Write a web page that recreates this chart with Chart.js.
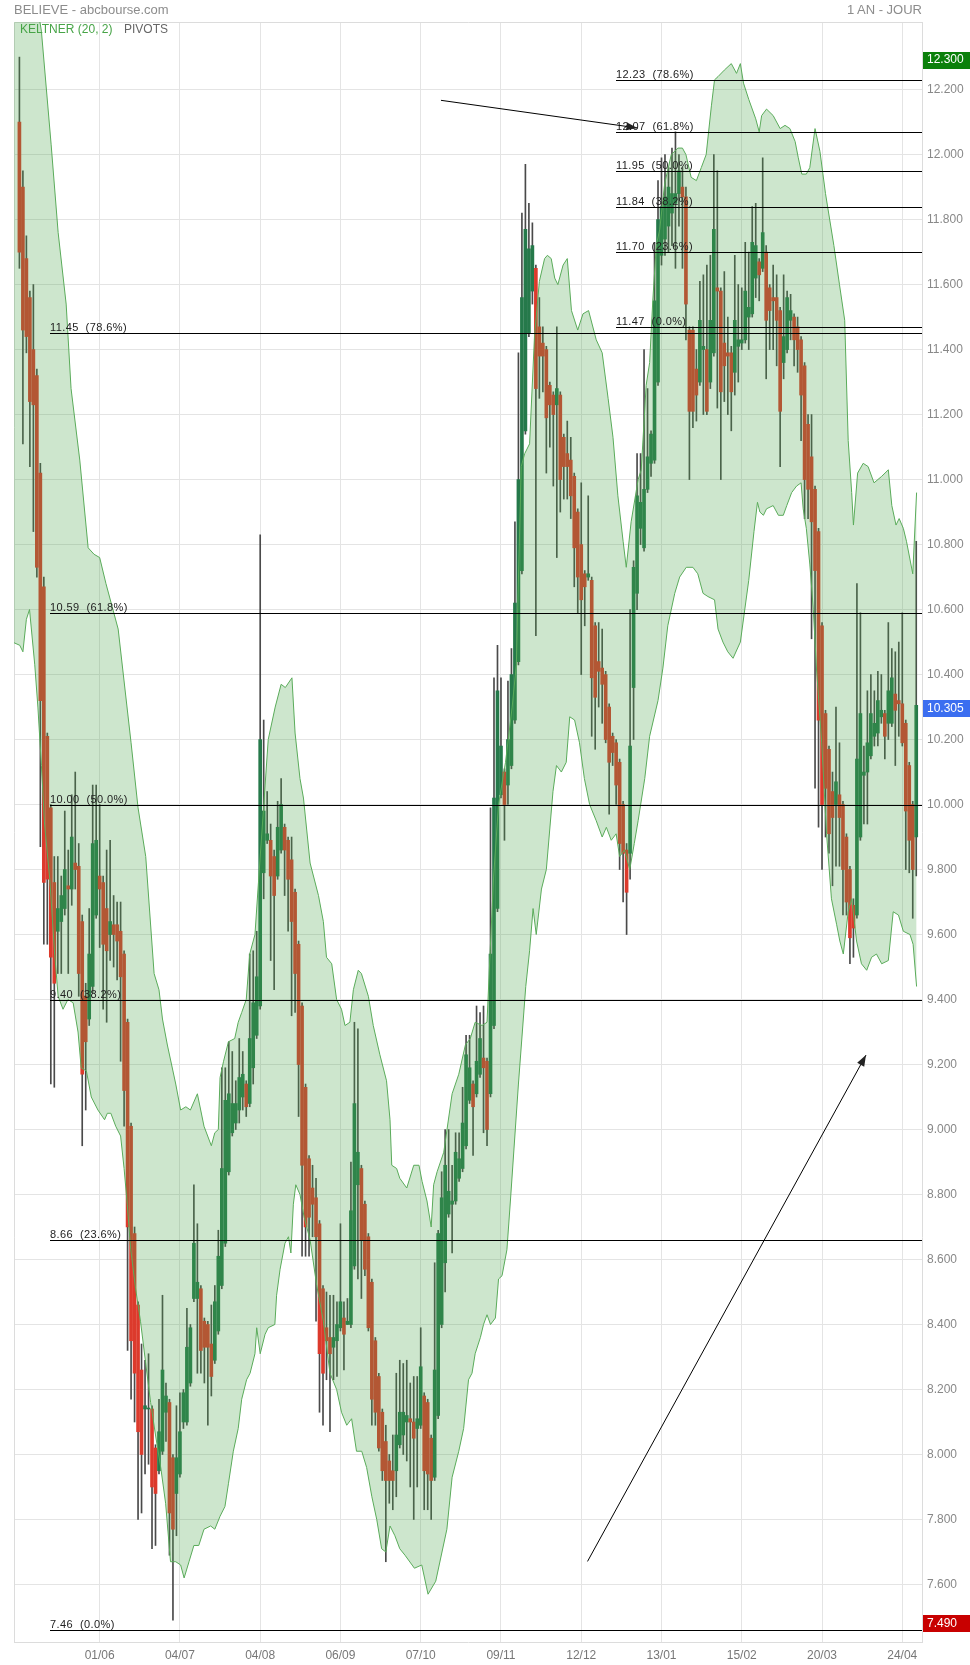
<!DOCTYPE html>
<html>
<head>
<meta charset="utf-8">
<title>BELIEVE - abcbourse.com</title>
<script src="https://cdn.jsdelivr.net/npm/chart.js"></script>
<style>
body{margin:0;background:#fff;font-family:"Liberation Sans",Arial,sans-serif}
#wrap{position:relative;width:970px;height:1665px}
.t{position:absolute;white-space:nowrap;line-height:1}
</style>
</head>
<body>
<div id="wrap">
<canvas id="chart" width="970" height="1665"></canvas>
<div class="t" style="left:14px;top:3px;font-size:13px;color:#8c8c8c">BELIEVE - abcbourse.com</div>
<div class="t" style="right:48px;top:3px;font-size:13px;color:#8c8c8c">1 AN - JOUR</div>
<div class="t" style="left:20px;top:23px;font-size:12px;color:#47a447">KELTNER (20, 2)</div>
<div class="t" style="left:124px;top:23px;font-size:12px;color:#666">PIVOTS</div>
</div>
<script>
// x = trading day index, one label every 23 sessions
const tickIdx = [23, 46, 69, 92, 115, 138, 161, 184, 207, 230, 253];
const tickLbl = ['01/06','04/07','04/08','06/09','07/10','09/11','12/12','13/01','15/02','20/03','24/04'];
const priceTicks = [7.6,7.8,8.0,8.2,8.4,8.6,8.8,9.0,9.2,9.4,9.6,9.8,10.0,10.2,10.4,10.6,10.8,11.0,11.2,11.4,11.6,11.8,12.0,12.2];

const opens = [
12.10,11.90,11.68,11.56,11.40,11.32,11.02,10.67,10.21,9.99,
9.76,9.61,9.64,9.68,9.75,9.74,9.82,9.81,9.64,9.41,
9.34,9.44,9.66,9.78,9.76,9.68,9.60,9.63,9.63,9.61,
9.54,9.33,9.01,8.68,8.46,8.26,8.14,8.14,8.14,8.02,
7.95,8.01,8.13,8.16,7.99,7.88,7.94,8.10,8.10,8.22,
8.48,8.48,8.51,8.41,8.40,8.34,8.29,8.38,8.52,8.65,
8.87,8.99,9.02,9.06,9.10,9.14,9.08,9.19,9.29,9.38,
9.79,9.89,9.89,9.84,9.78,9.86,9.93,9.89,9.83,9.73,
9.57,9.38,9.13,8.91,8.82,8.79,8.71,8.51,8.39,8.36,
8.33,8.35,8.39,8.42,8.40,8.40,8.58,8.83,8.88,8.77,
8.67,8.53,8.35,8.24,8.13,8.04,7.98,7.95,7.95,8.03,
8.06,8.10,8.11,8.10,8.08,8.09,8.18,8.16,8.05,7.93,
8.12,8.40,8.59,8.74,8.77,8.78,8.85,8.88,8.95,9.09,
9.14,9.11,9.17,9.22,9.21,9.11,9.32,9.68,10.03,10.10,
10.06,10.12,10.26,10.44,10.72,11.15,11.45,11.58,11.65,11.47,
11.42,11.40,11.29,11.26,11.23,11.26,11.13,11.08,11.06,11.01,
10.90,10.80,10.71,10.70,10.69,10.55,10.44,10.42,10.40,10.30,
10.21,10.19,10.13,10.00,9.86,9.85,10.36,10.65,10.85,10.79,
10.97,11.05,11.06,11.30,11.69,11.74,11.78,11.82,11.85,11.88,
11.90,11.87,11.46,11.46,11.34,11.30,11.40,11.40,11.30,11.39,
11.59,11.58,11.42,11.39,11.39,11.33,11.41,11.42,11.43,11.50,
11.51,11.62,11.67,11.65,11.70,11.59,11.56,11.56,11.52,11.36,
11.40,11.49,11.50,11.47,11.43,11.35,11.17,11.07,10.97,10.84,
10.55,10.28,10.17,10.04,10.00,10.03,10.00,9.90,9.80,9.69,
9.66,9.90,10.09,10.10,10.15,10.21,10.22,10.27,10.28,10.25,
10.25,10.34,10.32,10.31,10.25,10.12,10.00,9.90];

const highs = [
12.30,11.95,11.75,11.58,11.60,11.34,11.05,10.70,10.22,10.00,
9.84,9.84,9.78,9.98,9.86,10.03,10.10,9.88,9.66,9.45,
9.68,10.06,10.06,10.00,9.78,9.86,9.89,9.72,9.70,9.70,
9.55,9.34,9.02,8.70,8.47,8.34,8.29,8.31,8.15,8.03,
8.17,8.49,8.22,8.17,8.00,8.15,8.19,8.20,8.45,8.40,
8.83,8.71,8.52,8.42,8.41,8.46,8.52,8.69,9.19,9.19,
9.27,9.24,9.15,9.28,9.24,9.15,9.54,9.55,9.61,10.83,
10.26,10.04,9.94,9.86,10.01,10.08,9.94,9.90,9.90,9.74,
9.58,9.39,9.14,8.92,8.89,8.85,8.72,8.52,8.50,8.49,
8.49,8.47,8.71,8.47,8.48,8.90,9.33,9.31,8.89,8.78,
8.68,8.54,8.36,8.25,8.14,8.09,8.00,8.06,8.25,8.29,
8.28,8.29,8.22,8.24,8.24,8.39,8.19,8.17,8.06,8.59,
8.69,8.87,9.00,9.00,8.89,8.99,8.99,9.13,9.29,9.29,
9.15,9.38,9.36,9.38,9.22,9.99,10.39,10.49,10.39,10.11,
10.38,10.48,10.87,11.39,11.82,11.97,11.85,11.79,11.66,11.56,
11.47,11.41,11.30,11.27,11.47,11.27,11.14,11.18,11.13,11.02,
10.91,10.99,10.72,10.95,10.70,10.56,10.56,10.54,10.41,10.31,
10.22,10.20,10.14,10.01,9.88,10.60,10.75,11.08,11.08,11.40,
11.28,11.15,11.73,11.92,11.99,12.00,11.96,12.02,12.07,12.00,
11.96,11.90,11.47,11.47,11.40,11.61,11.63,11.66,11.69,12.00,
11.95,11.59,11.64,11.50,11.41,11.69,11.60,11.59,11.73,11.70,
11.84,11.85,11.68,11.99,11.72,11.60,11.66,11.63,11.53,11.63,
11.58,11.57,11.51,11.50,11.44,11.36,11.20,11.20,10.98,10.85,
10.56,10.29,10.18,10.10,10.30,10.19,10.01,9.91,9.81,9.71,
10.68,10.59,10.18,10.35,10.40,10.35,10.41,10.40,10.29,10.56,
10.48,10.47,10.50,10.59,10.26,10.13,10.01,10.81];

const lows = [
11.65,11.11,11.39,11.04,10.84,10.70,9.87,9.57,9.57,9.14,
9.13,9.48,9.48,9.66,9.48,9.69,9.74,9.41,8.95,9.06,
9.32,9.42,9.65,9.56,9.37,9.33,9.52,9.50,9.46,9.21,
9.01,8.32,8.17,8.10,7.80,7.82,7.94,7.97,7.71,7.72,
7.94,8.00,8.04,7.69,7.49,7.75,7.93,8.08,8.09,8.21,
8.47,8.25,8.25,8.22,8.09,8.18,8.28,8.37,8.51,8.64,
8.86,8.98,9.00,9.02,9.06,9.04,9.07,9.14,9.28,9.37,
9.71,9.88,9.52,9.43,9.77,9.85,9.72,9.61,9.35,9.36,
9.04,8.61,8.61,8.61,8.67,8.41,8.13,8.09,8.23,8.07,
8.23,8.24,8.38,8.26,8.40,8.39,8.57,8.54,8.48,8.55,
8.38,8.09,8.09,8.01,7.92,7.67,7.85,7.83,7.87,8.02,
8.00,7.98,7.90,7.80,7.90,8.08,7.83,7.83,7.80,7.92,
8.11,8.39,8.50,8.73,8.62,8.77,8.84,8.87,8.94,9.08,
8.92,9.10,9.16,8.99,8.95,9.10,9.31,9.67,10.02,9.89,
10.00,10.11,10.25,10.43,10.71,11.14,11.44,11.54,10.52,11.25,
11.27,11.02,11.10,10.98,10.76,10.90,10.94,10.94,10.88,10.67,
10.59,10.40,10.55,10.69,10.21,10.17,10.30,10.25,10.19,9.97,
10.12,10.00,9.80,9.70,9.60,9.77,10.20,10.60,10.80,10.78,
10.96,11.01,11.05,11.29,11.66,11.69,11.70,11.72,11.65,11.78,
11.65,11.43,11.00,11.16,11.18,11.29,11.20,11.20,11.28,11.38,
11.22,11.00,11.24,11.20,11.15,11.26,11.30,11.40,11.42,11.40,
11.50,11.56,11.55,11.64,11.31,11.40,11.40,11.35,11.04,11.31,
11.39,11.43,11.35,11.33,11.12,10.88,10.88,10.51,10.05,9.93,
9.80,9.90,9.85,9.75,9.81,9.81,9.66,9.66,9.51,9.53,
9.65,9.89,9.94,9.94,10.14,10.18,10.18,10.25,10.14,10.20,
10.24,10.12,10.21,10.18,9.80,9.79,9.65,9.78];

const closes = [
11.70,11.46,11.44,11.24,11.23,10.73,10.32,9.76,9.77,9.53,
9.45,9.68,9.72,9.80,9.74,9.90,9.80,9.48,9.17,9.27,
9.54,9.88,9.89,9.74,9.57,9.55,9.64,9.60,9.58,9.47,
9.12,8.70,8.35,8.25,8.07,8.00,8.15,8.14,7.90,7.88,
8.07,8.26,8.18,7.82,7.77,7.99,8.07,8.19,8.33,8.39,
8.65,8.53,8.32,8.33,8.33,8.24,8.47,8.61,8.88,9.09,
9.11,9.08,9.08,9.16,9.17,9.07,9.28,9.39,9.47,10.20,
9.98,9.91,9.78,9.72,9.93,10.00,9.86,9.77,9.64,9.48,
9.20,8.89,8.70,8.73,8.77,8.67,8.31,8.25,8.35,8.31,
8.36,8.40,8.47,8.37,8.41,8.75,9.08,8.93,8.66,8.57,
8.39,8.17,8.13,8.02,7.95,7.92,7.92,7.92,8.06,8.13,
8.13,8.12,8.10,8.05,8.11,8.27,7.95,7.94,7.92,8.26,
8.68,8.79,8.89,8.81,8.78,8.93,8.91,9.02,9.23,9.19,
9.07,9.21,9.28,9.19,9.00,9.54,10.02,10.35,10.18,10.00,
10.20,10.40,10.62,11.00,11.56,11.77,11.71,11.72,11.28,11.38,
11.38,11.19,11.23,11.20,11.28,11.00,11.04,11.04,10.95,10.79,
10.70,10.63,10.67,10.71,10.39,10.33,10.41,10.37,10.20,10.13,
10.16,10.06,9.88,9.85,9.73,10.18,10.73,10.95,10.93,10.97,
11.07,11.14,11.55,11.80,11.84,11.87,11.90,11.88,11.88,11.95,
11.87,11.54,11.21,11.21,11.26,11.49,11.41,11.21,11.49,11.77,
11.58,11.27,11.35,11.38,11.27,11.49,11.43,11.43,11.58,11.53,
11.73,11.72,11.63,11.76,11.49,11.52,11.55,11.49,11.21,11.44,
11.56,11.52,11.43,11.40,11.26,11.00,10.97,10.87,10.72,10.26,
10.00,10.05,9.91,9.96,10.07,9.96,9.80,9.70,9.59,9.62,
10.14,10.28,10.10,10.19,10.28,10.25,10.32,10.29,10.21,10.35,
10.39,10.29,10.31,10.19,9.98,9.89,9.80,10.305];

// Keltner (20, 2) envelope, [day index, price]
const keltnerUp = [[-2,12.85],[0,12.75],[3,12.6],[6.3,12.38],[9.1,12.03],[11.1,11.76],[13.4,11.54],[14.8,11.28],[17.3,11.06],[19.7,10.79],[21.4,10.77],[23,10.76],[24.8,10.68],[28.3,10.54],[32,10.19],[34,9.99],[36.2,9.84],[38.6,9.48],[40,9.43],[41,9.34],[42.4,9.26],[44.8,9.14],[46.2,9.06],[47.7,9.07],[49,9.06],[51,9.11],[52.9,9.01],[55,8.95],[56,8.99],[57,9.0],[57.5,9.16],[58.5,9.21],[59.9,9.27],[61.7,9.28],[62.7,9.33],[63.7,9.36],[65,9.40],[66,9.54],[67.5,9.60],[68.5,9.76],[69.9,9.98],[71.3,10.20],[73.3,10.30],[75,10.37],[76.2,10.36],[78.1,10.39],[79,10.22],[80.4,10.08],[81.4,10.02],[83.3,9.82],[85.7,9.72],[87.1,9.64],[88,9.53],[89.5,9.51],[90.9,9.40],[92.3,9.37],[93.3,9.32],[94.7,9.33],[95.7,9.43],[97.1,9.49],[98,9.48],[100,9.41],[101.4,9.32],[103.3,9.23],[105.2,9.15],[106.2,9.03],[106.7,8.89],[108.1,8.88],[109,8.85],[111,8.82],[113,8.89],[114.5,8.89],[115.4,8.84],[116.8,8.78],[118,8.70],[118.7,8.83],[119.7,8.87],[121.6,8.93],[124,9.11],[125.9,9.17],[127.8,9.26],[129.2,9.28],[130.6,9.33],[132.6,9.32],[134,9.33],[134.9,9.55],[135.9,9.78],[137.3,10.0],[139.3,10.13],[141.2,10.30],[142.4,10.43],[143.8,11.04],[144.8,11.08],[146.2,11.11],[147.6,11.44],[149,11.61],[150.5,11.68],[151.3,11.69],[152.4,11.68],[153.4,11.62],[154.3,11.60],[155.8,11.66],[157,11.68],[158.2,11.52],[160,11.46],[161.5,11.51],[163.1,11.52],[165.3,11.43],[167,11.39],[168.7,11.25],[170.1,11.13],[171.5,10.95],[173,10.81],[173.9,10.73],[175.3,10.87],[177.3,11.0],[178.2,11.03],[179.6,11.29],[180.6,11.36],[181.5,11.55],[182.5,11.72],[183.5,11.77],[184.9,11.91],[186.8,12.0],[188.7,12.02],[190,12.02],[191,12.0],[192.5,11.93],[194,11.92],[195.4,11.96],[196.8,12.0],[198.3,12.15],[199.2,12.23],[200.2,12.24],[202,12.26],[204,12.28],[205.5,12.25],[206.6,12.28],[207.5,12.22],[209,12.17],[211,12.11],[212,12.07],[212.7,12.12],[214.1,12.14],[216,12.12],[218,12.08],[219.4,12.09],[220.8,12.08],[222.3,12.04],[223.2,11.99],[224.2,11.94],[225.5,11.94],[226.5,11.96],[228,12.08],[229.4,12.01],[231,11.88],[233.4,11.72],[235,11.6],[236.5,11.49],[237.5,11.12],[238.5,10.96],[239,10.86],[240.2,11.02],[241.8,11.05],[243.2,11.04],[244.9,10.99],[247.1,11.01],[249,11.03],[250,10.92],[251.2,10.86],[252.1,10.88],[253.3,10.85],[254.2,10.81],[256,10.71],[257.1,10.96]];

const keltnerDn = [[-2,10.50],[0.1,10.49],[1,10.47],[2,10.57],[2.9,10.60],[4.4,10.43],[5.3,10.30],[6.3,10.12],[7.2,9.94],[8.7,9.77],[10.1,9.54],[11.1,9.41],[12.5,9.37],[13.9,9.40],[15.4,9.39],[16.8,9.30],[17.7,9.19],[19.2,9.18],[20.6,9.10],[22.5,9.06],[24.4,9.03],[25.2,9.05],[26.2,9.05],[27.6,9.01],[29,8.98],[30,8.88],[30.9,8.77],[31.9,8.63],[33.3,8.51],[34.7,8.41],[36.2,8.28],[37.6,8.16],[39,8.06],[40.5,7.96],[41.9,7.85],[43.3,7.67],[44.8,7.67],[46.2,7.66],[47.2,7.62],[48.6,7.67],[50,7.72],[51.4,7.72],[52.9,7.77],[54.8,7.78],[56,7.77],[57.5,7.81],[58.9,7.84],[59.9,7.91],[61.3,8.01],[62.7,8.08],[63.7,8.17],[65.1,8.23],[66.1,8.25],[67.5,8.31],[68,8.39],[69,8.31],[70.4,8.37],[71.3,8.39],[73.2,8.40],[73.7,8.49],[74.7,8.57],[76.1,8.65],[77.1,8.67],[77.8,8.62],[78.5,8.77],[79.2,8.83],[80.4,8.80],[81.6,8.73],[83.3,8.66],[85.2,8.52],[87.1,8.41],[89,8.25],[90.9,8.20],[92.3,8.13],[93.8,8.09],[95.2,8.11],[96.6,8.01],[98.1,8.01],[99.5,7.96],[101,7.87],[102.4,7.80],[103.8,7.71],[105,7.70],[106.2,7.78],[107.6,7.75],[109,7.71],[110.5,7.69],[113.2,7.65],[115.3,7.66],[117.1,7.57],[119.3,7.61],[122.5,7.77],[124,7.93],[125.9,8.01],[127.3,8.08],[128.7,8.23],[129.7,8.25],[130.6,8.31],[132.1,8.36],[133,8.40],[134,8.43],[135,8.40],[136.4,8.42],[137.3,8.54],[138.3,8.55],[139.7,8.63],[140.7,8.78],[143,9.14],[145.1,9.44],[146.2,9.55],[147.2,9.68],[148.1,9.60],[149.6,9.74],[151,9.80],[152.9,10.04],[153.9,10.12],[155.3,10.10],[156.7,10.13],[157.7,10.27],[159.1,10.26],[160.5,10.19],[161.9,10.08],[163.4,10.0],[165.3,9.95],[167,9.90],[168.2,9.93],[169.6,9.89],[171,9.91],[172,9.84],[173.4,9.86],[174.9,9.80],[176.2,9.88],[177.3,9.95],[179.2,10.08],[180.6,10.21],[183,10.32],[184.4,10.42],[185.8,10.55],[187.8,10.65],[189.2,10.70],[191.1,10.73],[193,10.73],[194.4,10.71],[195.9,10.65],[197.3,10.64],[199.2,10.63],[200.2,10.54],[201.6,10.50],[203,10.47],[204.5,10.45],[206.6,10.50],[209,10.69],[210.5,10.84],[211.5,10.93],[212.2,10.90],[213.2,10.89],[214.1,10.91],[216,10.92],[217.5,10.89],[218.9,10.89],[219.9,10.92],[221.3,10.96],[222.7,10.98],[224,10.99],[224.6,10.91],[225.5,10.85],[226.5,10.74],[227.5,10.60],[228.4,10.42],[229.9,10.19],[231.3,9.91],[232.7,9.71],[234.2,9.63],[235.1,9.58],[236.1,9.54],[237.5,9.67],[238.5,9.71],[239.9,9.58],[241.3,9.51],[242.8,9.49],[244.2,9.53],[245.6,9.54],[247.1,9.51],[249,9.52],[250.4,9.67],[251.9,9.66],[253.3,9.61],[255.2,9.60],[256.1,9.57],[257.1,9.44]];

// fibonacci retracements (pivots), drawn from a start day to the right edge
const fibLeft = [11.45, 10.59, 10.00, 9.40, 8.66, 7.46];
const fibRight = [12.23, 12.07, 11.95, 11.84, 11.70, 11.47];
const fibPct = ['78.6%', '61.8%', '50.0%', '38.2%', '23.6%', '0.0%'];
const fibLeftFrom = 8.74, fibRightFrom = 171.0;
// hand drawn arrows: [fromDay, fromPrice, toDay, toPrice]
const arrows = [[120.8, 12.167, 177.1, 12.082], [162.8, 7.671, 242.6, 9.229]];

const RED = '#dc3a2c', GREEN = '#25794a', WICK = '#4a4a4a', BAND = '#5aab5a';
const days = closes.map((c, i) => i);
const isUp = days.map(i => closes[i] >= opens[i]);

const overlay = {
    id: 'overlay',
    beforeDatasetsDraw(chart) {
        const {ctx, chartArea: a} = chart;
        ctx.save();
        ctx.strokeStyle = '#dcdcdc';
        ctx.lineWidth = 1;
        ctx.beginPath();
        ctx.moveTo(a.left + 0.5, a.bottom); ctx.lineTo(a.left + 0.5, a.top + 0.5); ctx.lineTo(a.right, a.top + 0.5);
        ctx.stroke();
        ctx.restore();
    },
    afterDatasetsDraw(chart) {
        const {ctx, chartArea: a, scales: {x, y}} = chart;
        ctx.save();
        ctx.beginPath(); ctx.rect(a.left, a.top, a.right - a.left, a.bottom - a.top); ctx.clip();
        ctx.strokeStyle = '#000'; ctx.fillStyle = '#222'; ctx.lineWidth = 1;
        ctx.font = '11px "Liberation Sans", Arial, sans-serif';
        ctx.letterSpacing = '0.4px';
        [[fibLeft, fibLeftFrom], [fibRight, fibRightFrom]].forEach(([lv, from]) => {
            const x0 = Math.round(x.getPixelForValue(from));
            lv.forEach((v, k) => {
                const py = Math.round(y.getPixelForValue(v)) + 0.5;
                ctx.beginPath(); ctx.moveTo(x0, py); ctx.lineTo(a.right, py); ctx.stroke();
                ctx.fillText(v.toFixed(2) + '  (' + fibPct[k] + ')', x0, py - 3);
            });
        });
        arrows.forEach(([d1, p1, d2, p2]) => {
            const x1 = x.getPixelForValue(d1), y1 = y.getPixelForValue(p1);
            const x2 = x.getPixelForValue(d2), y2 = y.getPixelForValue(p2);
            const ang = Math.atan2(y2 - y1, x2 - x1);
            ctx.beginPath(); ctx.moveTo(x1, y1); ctx.lineTo(x2, y2); ctx.stroke();
            ctx.beginPath();
            ctx.moveTo(x2, y2);
            ctx.lineTo(x2 - 11 * Math.cos(ang) + 4 * Math.sin(ang), y2 - 11 * Math.sin(ang) - 4 * Math.cos(ang));
            ctx.lineTo(x2 - 11 * Math.cos(ang) - 4 * Math.sin(ang), y2 - 11 * Math.sin(ang) + 4 * Math.cos(ang));
            ctx.closePath(); ctx.fill();
        });
        ctx.restore();
    },
    afterDraw(chart) {
        const {ctx, chartArea: a, scales: {y}} = chart;
        const marks = [[Math.max(...highs), '#0b800b'], [closes[closes.length - 1], '#3b6ef0'], [Math.min(...lows), '#c80000']];
        ctx.save();
        ctx.font = '12px "Liberation Sans", Arial, sans-serif';
        ctx.textBaseline = 'middle';
        marks.forEach(([v, col]) => {
            const cy = y.getPixelForValue(v) + 3;
            ctx.fillStyle = col;
            ctx.fillRect(a.right + 1, Math.round(cy - 8.5), chart.width - a.right - 1, 17);
            ctx.fillStyle = '#fff';
            ctx.fillText(v.toFixed(3), a.right + 5, cy);
        });
        ctx.restore();
    }
};

Chart.defaults.font.family = '"Liberation Sans", Arial, sans-serif';
new Chart(document.getElementById('chart'), {
    type: 'bar',
    data: {
        datasets: [
            {type: 'bar', data: days.map(i => ({x: i, y: [lows[i], highs[i]]})), backgroundColor: WICK, barThickness: 1, grouped: false, order: 3},
            {type: 'bar', data: days.map(i => ({x: i, y: [opens[i], closes[i]]})), backgroundColor: isUp.map(u => u ? GREEN : RED), barThickness: 3, minBarLength: 1, grouped: false, order: 2},
            {type: 'line', data: keltnerUp.map(([d, v]) => ({x: d, y: v})), borderColor: BAND, borderWidth: 1, pointRadius: 0, fill: false, order: 1},
            {type: 'line', data: keltnerDn.map(([d, v]) => ({x: d, y: v})), borderColor: BAND, borderWidth: 1, pointRadius: 0, fill: '-1', backgroundColor: 'rgba(76,166,76,0.28)', order: 1}
        ]
    },
    options: {
        responsive: false, animation: false, devicePixelRatio: 1,
        layout: {padding: {left: 14, top: 22, right: 0, bottom: 0}},
        plugins: {legend: {display: false}, tooltip: {enabled: false}},
        scales: {
            x: {
                type: 'linear', min: -1.55, max: 258.65, offset: false,
                afterFit: s => { s.height = 23; },
                afterBuildTicks: s => { s.ticks = tickIdx.map(v => ({value: v})); },
                grid: {color: '#e4e4e4', drawTicks: false, offset: false},
                border: {color: '#dcdcdc'},
                ticks: {autoSkip: false, maxRotation: 0, padding: 6, color: '#777', font: {size: 12},
                    callback: v => tickLbl[tickIdx.indexOf(v)]}
            },
            y: {
                position: 'right', min: 7.423, max: 12.408,
                afterFit: s => { s.width = 48; },
                afterBuildTicks: s => { s.ticks = priceTicks.map(v => ({value: v})); },
                grid: {color: '#e4e4e4', drawTicks: false},
                border: {color: '#dcdcdc'},
                ticks: {padding: 5, color: '#888', font: {size: 12}, callback: v => v.toFixed(3)}
            }
        }
    },
    plugins: [overlay]
});
</script>
</body>
</html>
